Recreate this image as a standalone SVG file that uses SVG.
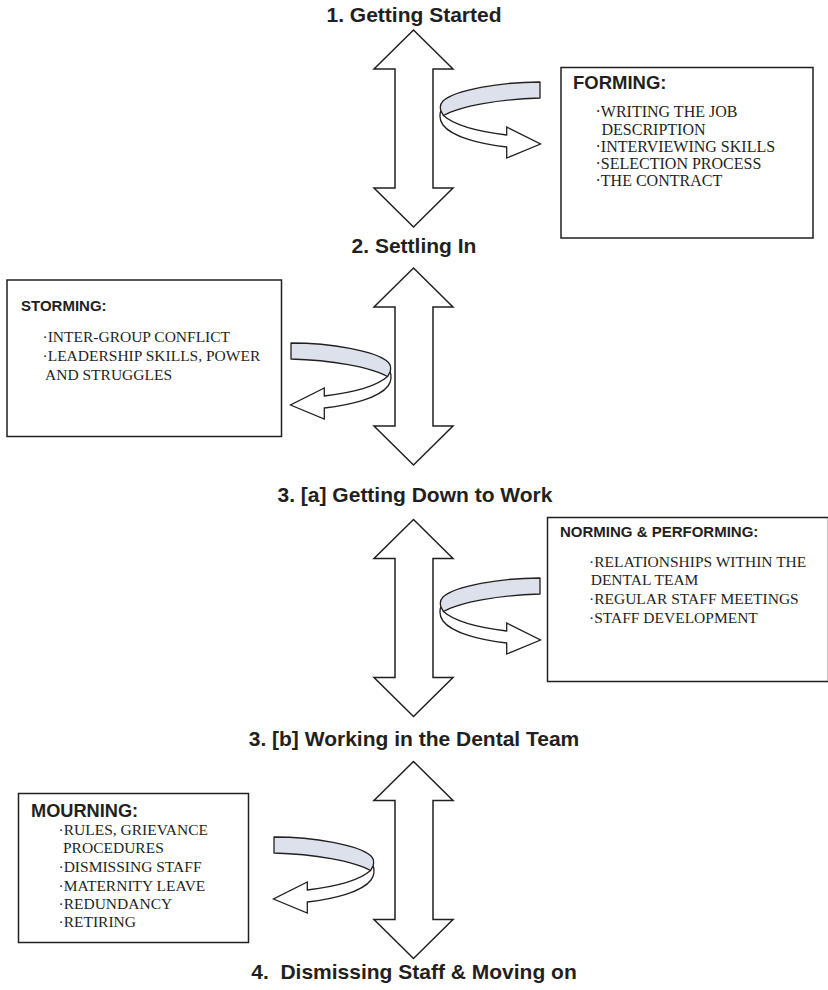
<svg xmlns="http://www.w3.org/2000/svg" xmlns:xlink="http://www.w3.org/1999/xlink" width="828" height="990" viewBox="0 0 828 990">
  <style>
    .stage { font-family: "Liberation Sans", Arial, sans-serif; font-weight: bold; font-size: 21px; fill: #231f20; text-anchor: middle; white-space: pre; }
    .title { font-family: "Liberation Sans", Arial, sans-serif; font-weight: bold; fill: #231f20; }
    .item { font-family: "Liberation Serif", "Times New Roman", serif; font-size: 15.5px; fill: #231f20; white-space: pre; }
    .item.large { font-size: 16px; }
    .box { fill: #ffffff; stroke: #231f20; stroke-width: 1.5; }
    .dbl { fill: #ffffff; stroke: #231f20; stroke-width: 1.5; stroke-linejoin: miter; }
    .band { fill: #dce1ec; stroke: #231f20; stroke-width: 1.3; stroke-linejoin: round; }
    .ribbon { fill: #ffffff; stroke: #231f20; stroke-width: 1.3; stroke-linejoin: miter; }
  </style>
  <defs>
    <!-- vertical two-headed block arrow, top tip at y=0 -->
    <path id="double-arrow" class="dbl" d="M413.5,0 L453,39 L433,39 L433,158 L453,158 L413.5,197 L374,158 L395,158 L395,39 L374,39 Z"/>
    <!-- rolled ribbon arrow pointing right, drawn in place for the first stage -->
    <g id="turn-arrow">
      <path class="ribbon" d="M441,110 C439,116 440,121 443,125 C452,137 480,144 506.7,147 L506.7,158 L540.5,144 L506.7,127 L506.7,135 C482,132 455,126 443.5,115.5 Z"/>
      <path class="band" d="M540,82 C500,82 455,90 443,101 C440,104 440,108 441,111 L443.5,115.5 C460,106 500,99 540,98 Z"/>
    </g>
  </defs>

  <!-- connectors: stage-to-stage arrows and the turns into each box -->
  <g id="connectors">
    <use xlink:href="#double-arrow" transform="translate(0,30)"/>
    <use xlink:href="#double-arrow" transform="translate(0,268)"/>
    <use xlink:href="#double-arrow" transform="translate(0,519.5)"/>
    <use xlink:href="#double-arrow" transform="translate(0,761.5)"/>
    <use xlink:href="#turn-arrow"/>
    <use xlink:href="#turn-arrow" transform="translate(831,261) scale(-1,1)"/>
    <use xlink:href="#turn-arrow" transform="translate(0,496)"/>
    <use xlink:href="#turn-arrow" transform="translate(814,755) scale(-1,1)"/>
  </g>

  <!-- stage headings -->
  <g id="stage-1"><text class="stage" x="414" y="22">1. Getting Started</text></g>
  <g id="stage-2"><text class="stage" x="414" y="253">2. Settling In</text></g>
  <g id="stage-3a"><text class="stage" x="415" y="502">3. [a] Getting Down to Work</text></g>
  <g id="stage-3b"><text class="stage" x="414" y="746">3. [b] Working in the Dental Team</text></g>
  <g id="stage-4"><text class="stage" x="414" y="979">4.  Dismissing Staff &amp; Moving on</text></g>

  <!-- FORMING -->
  <g id="forming">
    <rect class="box" x="561" y="67.5" width="252" height="170.5"/>
    <text class="title" x="573" y="89" font-size="18.5">FORMING:</text>
    <text class="item large" x="595.5" y="117">·WRITING THE JOB</text>
    <text class="item large" x="601.5" y="134.5">DESCRIPTION</text>
    <text class="item large" x="595.5" y="152">·INTERVIEWING SKILLS</text>
    <text class="item large" x="595.5" y="169">·SELECTION PROCESS</text>
    <text class="item large" x="595.5" y="186">·THE CONTRACT</text>
  </g>

  <!-- STORMING -->
  <g id="storming">
    <rect class="box" x="7" y="280" width="274.5" height="156.5"/>
    <text class="title" x="21" y="311" font-size="15">STORMING:</text>
    <text class="item" x="42.5" y="342">·INTER-GROUP CONFLICT</text>
    <text class="item" x="42.5" y="361">·LEADERSHIP SKILLS, POWER</text>
    <text class="item" x="45" y="379.5">AND STRUGGLES</text>
  </g>

  <!-- NORMING & PERFORMING -->
  <g id="norming-performing">
    <rect class="box" x="547.5" y="517.5" width="281" height="164"/>
    <text class="title" x="560" y="537" font-size="15">NORMING &amp; PERFORMING:</text>
    <text class="item" x="589" y="567">·RELATIONSHIPS WITHIN THE</text>
    <text class="item" x="590.7" y="585">DENTAL TEAM</text>
    <text class="item" x="589" y="604">·REGULAR STAFF MEETINGS</text>
    <text class="item" x="589" y="623">·STAFF DEVELOPMENT</text>
  </g>

  <!-- MOURNING -->
  <g id="mourning">
    <rect class="box" x="18.5" y="793.5" width="230" height="149"/>
    <text class="title" x="31" y="817" font-size="18.2">MOURNING:</text>
    <text class="item" x="58.5" y="835">·RULES, GRIEVANCE</text>
    <text class="item" x="63" y="853">PROCEDURES</text>
    <text class="item" x="58.5" y="872">·DISMISSING STAFF</text>
    <text class="item" x="58.5" y="891">·MATERNITY LEAVE</text>
    <text class="item" x="58.5" y="908.5">·REDUNDANCY</text>
    <text class="item" x="58.5" y="927">·RETIRING</text>
  </g>
</svg>
